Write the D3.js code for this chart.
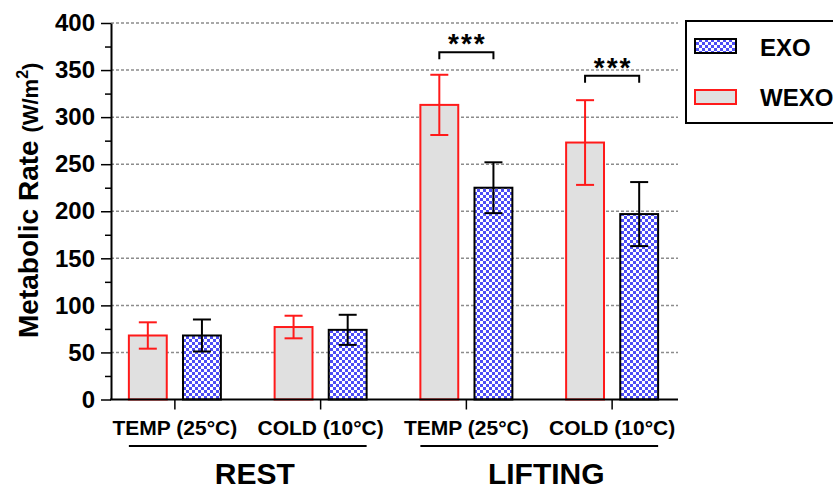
<!DOCTYPE html>
<html>
<head>
<meta charset="utf-8">
<script src="https://cdn.jsdelivr.net/npm/d3@7"></script>
<style>
  body { margin: 0; background: #fff; }
  svg { display: block; font-family: "Liberation Sans", Arial, sans-serif; }
</style>
</head>
<body>
<svg id="chart" width="833" height="490"></svg>
<script>
// chart values
var conditions = ["TEMP (25°C)", "COLD (10°C)", "TEMP (25°C)", "COLD (10°C)"];
var phases = ["REST", "LIFTING"];
var series = ["WEXO", "EXO"];
var wexoMean = [68, 77, 313, 273];
var wexoErr = [14, 12, 32, 45];
var exoMean = [68, 74, 225, 197];
var exoErr = [17, 16, 27, 34];
var sigGroups = [2, 3];
var sigLevel = [369, 344];
var yTicks = [0, 50, 100, 150, 200, 250, 300, 350, 400];

var svg = d3.select("#chart");

// patterns
var defs = svg.append("defs");
var pat = defs.append("pattern")
    .attr("id", "checker")
    .attr("patternUnits", "userSpaceOnUse")
    .attr("width", 6).attr("height", 6);
pat.append("rect").attr("width", 6).attr("height", 6).attr("fill", "#fff");
pat.append("rect").attr("width", 3).attr("height", 3).attr("fill", "#4d4df5");
pat.append("rect").attr("x", 3).attr("y", 3).attr("width", 3).attr("height", 3).attr("fill", "#4d4df5");

var style = {
    WEXO: { fill: "#e0e0e0", stroke: "#ff1a1a" },
    EXO: { fill: "url(#checker)", stroke: "#000" }
};

var axisLeft = 111, axisRight = 678;
var x = d3.scaleBand().domain(d3.range(conditions.length)).range([102, 685]);
var xs = d3.scaleBand().domain(series).range([-46, 46]).paddingInner(0.3);
var y = d3.scaleLinear().domain([0, 400]).range([399.5, 23]);

// grid lines
svg.append("g").selectAll("line")
    .data(yTicks.slice(1))
    .join("line")
    .attr("x1", axisLeft).attr("x2", axisRight)
    .attr("y1", function (d) { return y(d); })
    .attr("y2", function (d) { return y(d); })
    .attr("stroke", "#8c8c8c")
    .attr("stroke-width", 1.5)
    .attr("stroke-dasharray", "3,2");

// build one row per bar
var rows = [];
for (var i = 0; i < conditions.length; i++) {
    rows.push({ g: i, s: "WEXO", mean: wexoMean[i], err: wexoErr[i] });
    rows.push({ g: i, s: "EXO", mean: exoMean[i], err: exoErr[i] });
}
function cx(d) { return x(d.g) + x.bandwidth() / 2 + xs(d.s) + xs.bandwidth() / 2; }

var bars = svg.append("g");
bars.selectAll("rect")
    .data(rows)
    .join("rect")
    .attr("x", function (d) { return x(d.g) + x.bandwidth() / 2 + xs(d.s); })
    .attr("y", function (d) { return y(d.mean); })
    .attr("width", xs.bandwidth())
    .attr("height", function (d) { return y(0) - y(d.mean); })
    .attr("fill", function (d) { return style[d.s].fill; })
    .attr("stroke", function (d) { return style[d.s].stroke; })
    .attr("stroke-width", 2);

// error bars
var eb = svg.append("g").selectAll("g")
    .data(rows)
    .join("g")
    .attr("stroke", function (d) { return style[d.s].stroke; })
    .attr("stroke-width", 2);
eb.append("line")
    .attr("x1", cx).attr("x2", cx)
    .attr("y1", function (d) { return y(d.mean - d.err); })
    .attr("y2", function (d) { return y(d.mean + d.err); });
eb.append("line")
    .attr("x1", function (d) { return cx(d) - 9; })
    .attr("x2", function (d) { return cx(d) + 9; })
    .attr("y1", function (d) { return y(d.mean + d.err); })
    .attr("y2", function (d) { return y(d.mean + d.err); });
eb.append("line")
    .attr("x1", function (d) { return cx(d) - 9; })
    .attr("x2", function (d) { return cx(d) + 9; })
    .attr("y1", function (d) { return y(d.mean - d.err); })
    .attr("y2", function (d) { return y(d.mean - d.err); });

// y axis
var yAxis = svg.append("g")
    .attr("transform", "translate(" + axisLeft + ",0)")
    .call(d3.axisLeft(y).tickValues(yTicks).tickSize(10).tickSizeOuter(0).tickPadding(6));
yAxis.select(".domain").attr("stroke-width", 2);
yAxis.selectAll(".tick line").attr("stroke-width", 1.5);
yAxis.selectAll("text")
    .attr("font-size", 24).attr("font-weight", "bold").attr("fill", "#000")
    .attr("font-family", "Liberation Sans, Arial, sans-serif");

var yMinor = svg.append("g")
    .attr("transform", "translate(" + axisLeft + ",0)")
    .call(d3.axisLeft(y).tickValues([25, 75, 125, 175, 225, 275, 325, 375]).tickSize(6).tickFormat(""));
yMinor.select(".domain").remove();
yMinor.selectAll(".tick line").attr("stroke-width", 1.5);

// x axis
var xAxis = svg.append("g")
    .attr("transform", "translate(0," + y(0) + ")")
    .call(d3.axisBottom(x).tickSize(10).tickFormat(""));
xAxis.select(".domain").remove();
xAxis.selectAll(".tick line").attr("stroke-width", 1.5);
svg.append("line")
    .attr("x1", axisLeft - 1).attr("x2", axisRight)
    .attr("y1", y(0)).attr("y2", y(0))
    .attr("stroke", "#000").attr("stroke-width", 2);

svg.append("g").selectAll("text")
    .data(conditions)
    .join("text")
    .attr("x", function (d, i) { return x(i) + x.bandwidth() / 2; })
    .attr("y", 435)
    .attr("text-anchor", "middle")
    .attr("font-size", 21).attr("font-weight", "bold")
    .text(function (d) { return d; });

// phase underlines and labels
phases.forEach(function (p, k) {
    var x0 = x(k * 2) + x.bandwidth() / 2 + xs("WEXO");
    var x1 = x(k * 2 + 1) + x.bandwidth() / 2 + xs("EXO") + xs.bandwidth();
    svg.append("line")
        .attr("x1", x0).attr("x2", x1)
        .attr("y1", 446).attr("y2", 446)
        .attr("stroke", "#000").attr("stroke-width", 2);
    svg.append("text")
        .attr("x", (x0 + x1) / 2 + 7)
        .attr("y", 484)
        .attr("text-anchor", "middle")
        .attr("font-size", 30).attr("font-weight", "bold")
        .text(p);
});

// significance brackets
sigGroups.forEach(function (g, k) {
    var a = cx({ g: g, s: "WEXO" }), b = cx({ g: g, s: "EXO" });
    var yy = y(sigLevel[k]);
    svg.append("path")
        .attr("d", "M" + a + "," + (yy + 7) + "V" + yy + "H" + b + "V" + (yy + 7))
        .attr("fill", "none").attr("stroke", "#000").attr("stroke-width", 2);
    svg.append("text")
        .attr("x", (a + b) / 2 + 1)
        .attr("y", yy + 1)
        .attr("text-anchor", "middle")
        .attr("font-size", 28).attr("font-weight", "bold")
        .attr("letter-spacing", 2)
        .text("***");
});

// y title
var title = svg.append("text")
    .attr("transform", "translate(38,338) rotate(-90)")
    .attr("font-weight", "bold");
title.append("tspan").attr("font-size", 28).text("Metabolic Rate ");
title.append("tspan").attr("font-size", 22).text("(W/m");
title.append("tspan").attr("font-size", 16).attr("dy", -10).text("2");
title.append("tspan").attr("font-size", 22).attr("dy", 10).text(")");

// legend
var legend = svg.append("g");
legend.append("rect")
    .attr("x", 686).attr("y", 21).attr("width", 160).attr("height", 102)
    .attr("fill", "#fff").attr("stroke", "#000").attr("stroke-width", 2);
var legendOrder = ["EXO", "WEXO"];
legendOrder.forEach(function (s, i) {
    legend.append("rect")
        .attr("x", 695).attr("y", 39 + i * 51)
        .attr("width", 41).attr("height", 14)
        .attr("fill", style[s].fill).attr("stroke", style[s].stroke).attr("stroke-width", 2);
    legend.append("text")
        .attr("x", 760).attr("y", 56 + i * 50)
        .attr("font-size", 24).attr("font-weight", "bold")
        .text(s);
});
</script>
</body>
</html>
